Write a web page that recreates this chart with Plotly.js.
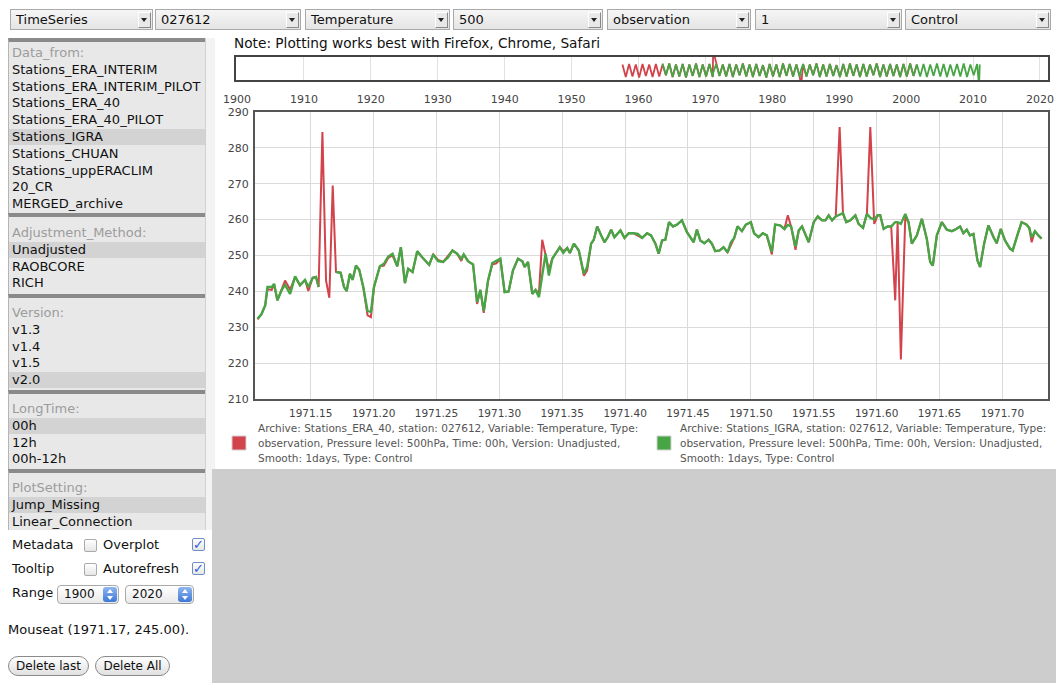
<!DOCTYPE html>
<html><head><meta charset="utf-8">
<script src="https://cdn.plot.ly/plotly-3.0.1.min.js"></script>
<style>
body{margin:0;width:1056px;height:683px;position:relative;background:#fff;font-family:"DejaVu Sans",sans-serif;font-size:13px;color:#111;overflow:hidden}
.sel{position:absolute;top:9px;height:21px;box-sizing:border-box;border:1px solid #a9a9a9;background:linear-gradient(#f6f6f6,#e4e4e4);line-height:19px;padding-left:5px;font-size:13px;color:#111}
.sel .arr{position:absolute;right:1px;top:2px;width:11px;height:14px;border-right:1px solid #888;border-bottom:1px solid #888;border-left:1px solid #fff;border-top:1px solid #fff;background:#e8e8e8}
.sel .arr i{position:absolute;left:2px;top:5px;width:0;height:0;border-left:3.5px solid transparent;border-right:3.5px solid transparent;border-top:4px solid #222}
.box{position:absolute;left:8px;width:197px;background:#e8e8e8;border-top:4px solid #8a8a8a;border-left:1px solid #b5b5b5;box-sizing:border-box}
.row{position:absolute;left:0;width:196px;height:16px;line-height:16px;padding-left:3px;box-sizing:border-box;white-space:nowrap}
.ttl{color:#9c9c9c}
.hl{background:#d3d3d3}
.txt{position:absolute;line-height:16px;white-space:nowrap}
.cb{position:absolute;width:11px;height:11px;border:1px solid #aaa;border-radius:2px;background:linear-gradient(#fff,#e6e6e6)}
.cb.on{border-color:#6d8fc7;color:#2a5bd7;font-size:13px;line-height:11px;text-align:center;font-weight:bold}
.rsel{position:absolute;top:585px;height:17px;border:1px solid #aaa;border-radius:4px;background:linear-gradient(#fff,#e9e9e9);font-size:12px;line-height:17px;padding-left:6px;box-sizing:content-box}
.rsel .st{position:absolute;right:1px;top:1px;width:14px;height:15px;border-radius:3px;background:linear-gradient(#8fb6ef,#3d78d6)}
.rsel .st i{position:absolute;left:4px;width:0;height:0;border-left:3px solid transparent;border-right:3px solid transparent}
.rsel .st i.u{top:2px;border-bottom:4px solid #fff}
.rsel .st i.d{top:9px;border-top:4px solid #fff}
.btn{position:absolute;top:656px;height:18px;border:1px solid #8a8a8a;border-radius:10px;background:linear-gradient(#fff,#e0e0e0);font-size:12px;line-height:18px;text-align:center}
</style></head>
<body>
<div id="topbar"></div>
<div id="leftpanel"></div>
<div style="position:absolute;left:205px;top:38px;width:9px;height:492px;background:#f3f3f3;border-left:1px solid #d0d0d0"></div>
<div class="txt" style="left:234px;top:35px;font-size:13.7px">Note: Plotting works best with Firefox, Chrome, Safari</div>
<div style="position:absolute;left:212px;top:469px;width:844px;height:214px;background:#cdcdcd"></div>
<div class="txt" style="left:12px;top:537px">Metadata</div>
<div class="cb" style="left:84px;top:539px"></div>
<div class="txt" style="left:103px;top:537px">Overplot</div>
<div class="cb on" style="left:192px;top:538px">✓</div>
<div class="txt" style="left:12px;top:561px">Tooltip</div>
<div class="cb" style="left:84px;top:563px"></div>
<div class="txt" style="left:103px;top:561px">Autorefresh</div>
<div class="cb on" style="left:192px;top:562px">✓</div>
<div class="txt" style="left:12px;top:585px">Range</div>
<div class="rsel" style="left:57px;width:54px">1900<span class="st"><i class="u"></i><i class="d"></i></span></div>
<div class="rsel" style="left:125px;width:61px">2020<span class="st"><i class="u"></i><i class="d"></i></span></div>
<div class="txt" style="left:8px;top:622px">Mouseat (1971.17, 245.00).</div>
<div class="btn" style="left:8px;width:79px">Delete last</div>
<div class="btn" style="left:95px;width:73px">Delete All</div>
<div id="chart" style="position:absolute;left:220px;top:50px;width:836px;height:420px"></div>
<script>
// ---- UI texts ----
const selectors = ["TimeSeries","027612","Temperature","500","observation","1","Control"];
const selectorLeft = [10,155,305,453,607,755,905];
const selectorWidth = [143,146,145,150,144,147,146];
const boxTitles = ["Data_from:","Adjustment_Method:","Version:","LongTime:","PlotSetting:"];
const boxItems = [
  ["Stations_ERA_INTERIM","Stations_ERA_INTERIM_PILOT","Stations_ERA_40","Stations_ERA_40_PILOT","Stations_IGRA","Stations_CHUAN","Stations_uppERACLIM","20_CR","MERGED_archive"],
  ["Unadjusted","RAOBCORE","RICH"],
  ["v1.3","v1.4","v1.5","v2.0"],
  ["00h","12h","00h-12h"],
  ["Jump_Missing","Linear_Connection"]
];
const boxSelected = ["Stations_IGRA","Unadjusted","v2.0","00h","Jump_Missing"];
const boxTop = [38,213,294,390,469];
const boxHeight = [175,81,96,79,61];
const boxRowOffset = [3,8,7,7,7];

// ---- main series: decimal year, ERA_40 and IGRA temperature (K) at 500 hPa ----
const timeAxis = [1971.1077,1971.1108,1971.1138,1971.1156,1971.1190,1971.1209,1971.1235,1971.1270,1971.1296,1971.1336,
1971.1376,1971.1415,1971.1455,1971.1481,1971.1516,1971.1542,1971.1563,1971.1593,1971.1622,1971.1648,
1971.1675,1971.1701,1971.1738,1971.1765,1971.1786,1971.1812,1971.1833,1971.1860,1971.1886,1971.1918,
1971.1952,1971.1979,1971.2003,1971.2050,1971.2082,1971.2116,1971.2151,1971.2188,1971.2217,1971.2249,
1971.2275,1971.2310,1971.2347,1971.2381,1971.2442,1971.2474,1971.2513,1971.2553,1971.2593,1971.2627,
1971.2664,1971.2698,1971.2717,1971.2751,1971.2791,1971.2823,1971.2849,1971.2876,1971.2910,1971.2944,
1971.2976,1971.3008,1971.3042,1971.3074,1971.3108,1971.3148,1971.3183,1971.3201,1971.3228,1971.3262,
1971.3288,1971.3315,1971.3341,1971.3368,1971.3394,1971.3421,1971.3447,1971.3481,1971.3508,1971.3540,
1971.3561,1971.3593,1971.3632,1971.3672,1971.3698,1971.3730,1971.3751,1971.3778,1971.3810,1971.3836,
1971.3862,1971.3889,1971.3915,1971.3963,1971.3995,1971.4029,1971.4069,1971.4101,1971.4135,1971.4175,
1971.4206,1971.4241,1971.4267,1971.4294,1971.4320,1971.4349,1971.4381,1971.4413,1971.4452,1971.4492,
1971.4545,1971.4571,1971.4598,1971.4630,1971.4664,1971.4690,1971.4717,1971.4751,1971.4783,1971.4815,
1971.4841,1971.4868,1971.4894,1971.4929,1971.4960,1971.5000,1971.5026,1971.5061,1971.5095,1971.5127,
1971.5167,1971.5193,1971.5233,1971.5267,1971.5294,1971.5320,1971.5355,1971.5381,1971.5407,1971.5434,
1971.5460,1971.5500,1971.5532,1971.5566,1971.5593,1971.5619,1971.5646,1971.5675,1971.5706,1971.5733,
1971.5759,1971.5791,1971.5831,1971.5857,1971.5892,1971.5923,1971.5950,1971.5981,1971.6008,1971.6029,
1971.6056,1971.6087,1971.6116,1971.6148,1971.6167,1971.6193,1971.6228,1971.6254,1971.6280,1971.6320,
1971.6360,1971.6399,1971.6426,1971.6447,1971.6479,1971.6519,1971.6558,1971.6598,1971.6624,1971.6664,
1971.6690,1971.6717,1971.6743,1971.6770,1971.6802,1971.6823,1971.6855,1971.6889,1971.6929,1971.6955,
1971.6987,1971.7021,1971.7061,1971.7082,1971.7119,1971.7153,1971.7193,1971.7214,1971.7233,1971.7259,
1971.7286,1971.7312];
const era40Temp = [232.2,233.6,236.1,240.6,240.4,242.0,237.5,240.4,243.0,240.5,
244.0,241.7,243.2,240.1,243.8,244.0,241.2,284.4,243.0,238.2,
269.5,245.4,245.2,241.2,240.1,244.9,243.2,247.2,246.0,241.2,
233.3,232.8,241.2,247.0,247.2,249.3,250.0,247.0,252.3,242.3,
246.3,245.4,251.2,249.7,247.4,250.3,248.8,248.2,250.0,251.4,
250.5,248.5,250.3,248.4,247.5,236.5,240.4,234.0,243.0,247.5,
247.8,249.1,239.8,240.0,245.8,249.1,248.4,246.8,248.2,239.3,
240.4,239.5,254.4,250.0,246.0,249.1,250.5,252.3,251.2,252.1,
250.7,253.3,251.4,244.4,245.8,253.3,254.4,258.1,255.6,253.7,
255.1,257.2,255.1,257.0,254.9,256.2,256.2,255.5,254.9,256.2,
255.6,253.3,250.5,254.2,254.4,259.3,258.1,258.6,259.8,256.5,
253.7,257.2,254.2,253.4,254.4,253.3,251.2,251.4,252.3,250.9,
252.8,254.9,258.1,256.8,258.6,259.3,256.2,255.1,256.2,255.6,
250.3,258.6,258.4,257.4,261.2,258.1,251.6,257.0,258.1,255.6,
253.7,259.3,260.9,259.8,259.8,261.2,259.8,260.9,285.8,261.5,
259.3,259.8,261.2,258.8,257.7,261.6,285.8,258.8,261.2,261.2,
257.4,258.1,258.1,237.5,259.3,221.0,260.7,259.3,253.3,255.6,
260.2,254.7,248.2,247.2,255.6,259.3,257.2,256.8,257.2,258.1,
256.2,257.2,255.6,256.0,248.6,246.8,253.3,258.4,255.1,253.4,
257.4,254.2,251.9,251.4,255.6,259.3,258.6,257.7,253.7,256.8,
255.6,254.7];
const igraTemp = [232.4,233.6,236.1,241.2,241.2,242.1,237.5,240.4,241.8,239.3,
244.2,241.7,243.2,241.2,243.8,244.0,241.2,null,null,null,
null,245.4,245.2,241.2,240.1,244.9,243.2,247.2,246.0,241.2,
234.5,234.3,241.2,247.0,247.7,249.7,250.5,247.0,252.3,242.3,
246.3,245.4,251.2,249.7,247.4,250.3,248.4,248.2,249.5,251.4,
250.5,249.1,250.3,248.4,247.5,237.0,240.4,234.5,243.0,247.9,
248.4,249.1,239.8,240.0,245.8,249.1,248.4,246.8,248.2,239.3,
240.4,238.4,244.5,250.5,244.4,249.1,250.5,252.3,250.7,252.1,
250.7,253.3,251.4,244.9,246.8,253.3,254.4,258.1,255.6,253.7,
255.1,257.2,255.1,257.0,254.9,256.2,256.2,256.0,254.9,256.2,
255.6,253.3,250.5,254.2,254.4,259.3,258.1,258.6,259.8,256.5,
253.7,257.2,254.2,253.4,254.4,253.3,251.2,251.4,252.3,250.9,
253.7,254.9,258.1,256.8,258.6,259.3,256.2,255.1,256.2,255.6,
251.0,258.6,258.4,257.4,258.5,258.1,252.5,257.0,258.1,255.6,
253.7,259.3,260.9,259.8,259.8,261.2,259.8,260.9,261.3,261.8,
259.3,259.8,261.2,258.8,257.7,261.6,260.5,260.0,261.2,261.2,
257.4,258.1,258.1,259.3,259.3,258.8,261.6,259.3,253.3,255.6,
260.2,254.7,248.2,247.2,255.6,259.3,257.2,256.8,257.2,258.1,
256.2,257.2,255.6,256.0,248.6,246.8,253.3,258.4,255.1,253.4,
257.4,254.2,251.9,251.4,255.6,259.3,258.6,257.7,255.0,256.8,
255.6,254.7];

// ---- overview series (whole record, 1900-2020 axis) ----
const ovTime = [1957.6,
1958.1,1958.6,1959.1,1959.6,1960.1,1960.6,1961.1,1961.6,1962.1,1962.6,
1963.1,1963.6,1964.1,1964.6,1965.1,1965.6,1966.1,1966.6,1967.1,1967.6,
1968.1,1968.6,1969.1,1969.6,1970.1,1970.6,1971.1,1971.16,1971.6,1972.1,1972.6,
1973.1,1973.6,1974.1,1974.6,1975.1,1975.6,1976.1,1976.6,1977.1,1977.6,
1978.1,1978.6,1979.1,1979.6,1980.1,1980.6,1981.1,1981.6,1982.1,1982.6,
1983.1,1983.6,1984.1,1984.3,1984.6,1985.1,1985.6,1986.1,1986.6,1987.1,1987.6,
1988.1,1988.6,1989.1,1989.6,1990.1,1990.6,1991.1,1991.6,1992.1,1992.6,
1993.1,1993.6,1994.1,1994.6,1995.1,1995.6,1996.1,1996.6,1997.1,1997.6,
1998.1,1998.6,1999.1,1999.6,2000.1,2000.6,2001.1,2001.6,2002.1,2002.6,
2003.1,2003.6,2004.1,2004.6,2005.1,2005.6,2006.1,2006.6,2007.1,2007.6,
2008.1,2008.6,2009.1,2009.6,2010.1,2010.6,2010.9,2011.0];
const ovEra40 = [259,
237,260,238,259,236,260,239,259,237,260,
238,259,240,261,237,259,238,260,236,259,
239,261,237,259,238,260,237,284,260,239,259,
238,260,237,259,240,261,238,259,237,260,
239,258,236,260,238,259,237,261,239,260,
238,259,237,221,260,238,259,240,261,237,259,
238,260,239,258,237,260,238,261,239,259,
237,260,238,259,240,261,237,259,238,260,
239,259,237,260,238,261,239,259,null,null,
null,null,null,null,null,null,null,null,null,null,
null,null,null,null,null,null,null,null];
const ovIgra = [null,
null,null,null,null,null,null,null,null,null,null,
null,261,240,261,237,259,238,260,236,259,
239,261,237,259,238,260,237,244,260,239,259,
238,260,237,259,240,261,238,259,237,260,
239,258,236,260,238,259,237,261,239,260,
238,259,237,250,260,238,259,240,261,237,259,
238,260,239,258,237,260,238,261,239,259,
237,260,238,259,240,261,237,259,238,260,
239,259,237,260,238,261,239,259,238,260,
237,259,239,261,238,260,237,259,239,260,
238,261,237,259,240,260,222,259];

const legendLines = [
  ["Archive: Stations_ERA_40, station: 027612, Variable: Temperature, Type:",
   "observation, Pressure level: 500hPa, Time: 00h, Version: Unadjusted,",
   "Smooth: 1days, Type: Control"],
  ["Archive: Stations_IGRA, station: 027612, Variable: Temperature, Type:",
   "observation, Pressure level: 500hPa, Time: 00h, Version: Unadjusted,",
   "Smooth: 1days, Type: Control"]
];
const seriesColors = ["#d2434b", "#48a545"];

// ---- build UI ----
const tb = document.getElementById('topbar');
selectors.forEach((s, i) => {
  const d = document.createElement('div');
  d.className = 'sel';
  d.style.left = selectorLeft[i] + 'px';
  d.style.width = selectorWidth[i] + 'px';
  d.innerHTML = s + '<span class="arr"><i></i></span>';
  tb.appendChild(d);
});
const lp = document.getElementById('leftpanel');
boxTitles.forEach((t, b) => {
  const box = document.createElement('div');
  box.className = 'box';
  box.style.top = boxTop[b] + 'px';
  box.style.height = boxHeight[b] + 'px';
  const rows = [t].concat(boxItems[b]);
  rows.forEach((r, k) => {
    const d = document.createElement('div');
    d.className = 'row' + (k === 0 ? ' ttl' : '') + (r === boxSelected[b] ? ' hl' : '');
    d.style.top = (boxRowOffset[b] + k * 16.8) + 'px';
    d.textContent = r;
    box.appendChild(d);
  });
  lp.appendChild(box);
});

// ---- chart ----
const traces = [
  {x: timeAxis, y: era40Temp, xaxis: 'x', yaxis: 'y', mode: 'lines', name: 'Stations_ERA_40',
   line: {color: seriesColors[0], width: 2}, connectgaps: false},
  {x: timeAxis, y: igraTemp, xaxis: 'x', yaxis: 'y', mode: 'lines', name: 'Stations_IGRA',
   line: {color: seriesColors[1], width: 2.4}, connectgaps: false},
  {x: ovTime, y: ovEra40, xaxis: 'x2', yaxis: 'y2', mode: 'lines', name: 'Stations_ERA_40 (overview)',
   line: {color: seriesColors[0], width: 1.8}, connectgaps: false},
  {x: ovTime, y: ovIgra, xaxis: 'x2', yaxis: 'y2', mode: 'lines', name: 'Stations_IGRA (overview)',
   line: {color: seriesColors[1], width: 1.8}, connectgaps: false}
];
const annotations = [];
const shapes = [];
const lineY = [-0.0848, -0.1287, -0.1725];
const textX = [0.0246, 0.5443];
const sqX = [[-0.0049, 0.0123], [0.5185, 0.5357]];
legendLines.forEach((lines, s) => {
  lines.forEach((t, k) => annotations.push({
    xref: 'paper', yref: 'paper', x: textX[s], y: lineY[k], xanchor: 'left', yanchor: 'middle',
    text: t, showarrow: false, font: {family: 'DejaVu Sans', size: 10.5, color: '#555'}
  }));
  shapes.push({type: 'rect', xref: 'paper', yref: 'paper', x0: sqX[s][0], x1: sqX[s][1],
    y0: -0.1082, y1: -0.1491, fillcolor: seriesColors[s], line: {color: '#cfcfcf', width: 1}});
});
const axBase = {showgrid: true, gridcolor: '#dadada', gridwidth: 1, showline: true, mirror: true,
  linecolor: '#555', linewidth: 2, zeroline: false, tickfont: {family: 'DejaVu Sans', size: 11, color: '#444'}};
const layout = {
  width: 836, height: 420,
  margin: {l: 16, r: 8, t: 7, b: 71},
  paper_bgcolor: 'rgba(0,0,0,0)', plot_bgcolor: '#fff',
  showlegend: false,
  xaxis: Object.assign({}, axBase, {domain: [0.0234, 1], anchor: 'y', range: [1971.1057, 1971.7363],
    tick0: 1971.15, dtick: 0.05, tickformat: '.2f', ticks: 'outside', ticklen: 3, tickcolor: 'rgba(0,0,0,0)',
    tickfont: {family: 'DejaVu Sans', size: 10.5, color: '#444'}}),
  yaxis: Object.assign({}, axBase, {domain: [0, 0.8392], anchor: 'x', range: [210, 290], dtick: 10,
    ticks: 'outside', ticklen: 2, tickcolor: 'rgba(0,0,0,0)'}),
  xaxis2: Object.assign({}, axBase, {domain: [0, 1], anchor: 'y2', range: [1899.85, 2021.2], tick0: 1900, dtick: 10,
    gridcolor: '#e2e2e2', linecolor: '#444', ticks: 'outside', ticklen: 8, tickcolor: 'rgba(0,0,0,0)',
    ticklabeloverflow: 'allow'}),
  yaxis2: Object.assign({}, axBase, {domain: [0.9327, 1], anchor: 'x2', range: [231.7, 272.4],
    showgrid: false, showticklabels: false, linecolor: '#444'}),
  annotations: annotations,
  shapes: shapes
};
Plotly.newPlot('chart', traces, layout, {staticPlot: true, displayModeBar: false});
</script>
</body></html>
